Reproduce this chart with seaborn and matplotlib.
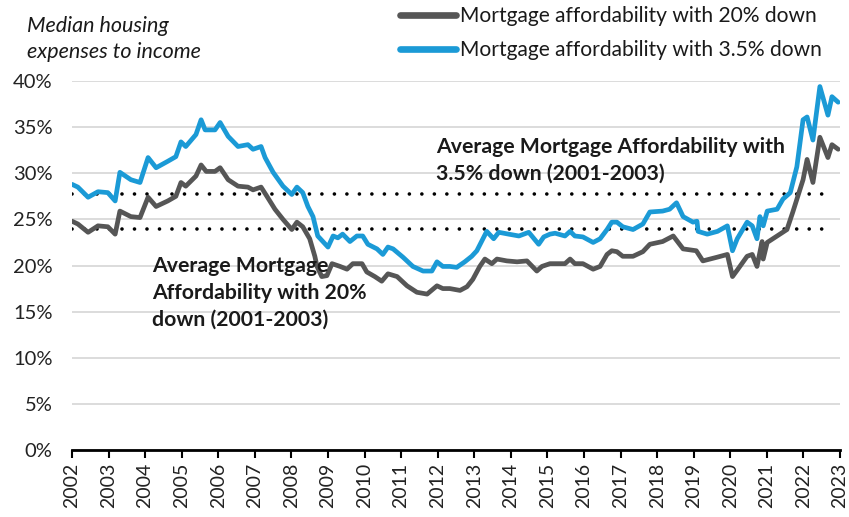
import matplotlib
matplotlib.use("Agg")
import matplotlib.pyplot as plt
import matplotlib.ticker as mticker
import pandas as pd
import seaborn as sns

# Mortgage affordability with 3.5% down (decimal year, % of income)
low_down_years = [
    2002.00, 2002.16, 2002.44, 2002.71, 2002.98, 2003.18, 2003.31, 2003.61, 2003.86,
    2004.08, 2004.30, 2004.62, 2004.84, 2004.98, 2005.11, 2005.39, 2005.53, 2005.64,
    2005.91, 2006.05, 2006.27, 2006.54, 2006.81, 2006.95, 2007.17, 2007.28, 2007.50,
    2007.77, 2008.01, 2008.15, 2008.31, 2008.45, 2008.59, 2008.72, 2008.86, 2009.00,
    2009.14, 2009.27, 2009.40, 2009.60, 2009.79, 2009.95, 2010.09, 2010.34, 2010.50,
    2010.64, 2010.78, 2011.05, 2011.32, 2011.60, 2011.84, 2011.98, 2012.14, 2012.33,
    2012.52, 2012.74, 2012.93, 2013.07, 2013.34, 2013.53, 2013.67, 2013.94, 2014.22,
    2014.49, 2014.76, 2014.90, 2015.07, 2015.21, 2015.48, 2015.62, 2015.75, 2015.97,
    2016.25, 2016.44, 2016.63, 2016.76, 2016.90, 2017.06, 2017.34, 2017.61, 2017.80,
    2018.15, 2018.34, 2018.53, 2018.71, 2018.98, 2019.09, 2019.12, 2019.37, 2019.65,
    2019.92, 2020.06, 2020.19, 2020.46, 2020.60, 2020.73, 2020.81, 2020.90, 2021.01,
    2021.28, 2021.44, 2021.64, 2021.82, 2021.99, 2022.10, 2022.26, 2022.45, 2022.67,
    2022.78, 2022.95,
]
low_down_pct = [
    28.8, 28.5, 27.4, 28.0, 27.9, 27.0, 30.1, 29.3, 29.0,
    31.7, 30.6, 31.3, 31.8, 33.4, 32.9, 34.2, 35.8, 34.7,
    34.7, 35.5, 34.0, 32.9, 33.1, 32.6, 32.9, 31.7, 30.1,
    28.6, 27.7, 28.5, 27.9, 26.4, 25.3, 23.2, 22.6, 22.0,
    23.2, 23.0, 23.4, 22.6, 23.2, 23.2, 22.3, 21.8, 21.2,
    22.0, 21.8, 20.9, 19.9, 19.4, 19.4, 20.4, 19.9, 19.9,
    19.8, 20.4, 21.0, 21.6, 23.7, 22.9, 23.6, 23.4, 23.2,
    23.6, 22.3, 23.1, 23.4, 23.5, 23.2, 23.7, 23.2, 23.1,
    22.5, 22.9, 23.9, 24.7, 24.7, 24.2, 23.9, 24.5, 25.8,
    25.9, 26.1, 26.8, 25.3, 24.7, 24.8, 23.7, 23.4, 23.7,
    24.3, 21.6, 22.9, 24.7, 24.3, 22.9, 25.3, 24.3, 25.9,
    26.1, 27.2, 27.9, 30.7, 35.8, 36.1, 33.6, 39.4, 36.3,
    38.3, 37.7,
]

# Mortgage affordability with 20% down (decimal year, % of income)
full_down_years = [
    2002.00, 2002.16, 2002.44, 2002.71, 2002.98, 2003.18, 2003.31, 2003.61, 2003.86,
    2004.08, 2004.30, 2004.62, 2004.84, 2004.98, 2005.11, 2005.39, 2005.53, 2005.67,
    2005.91, 2006.05, 2006.27, 2006.54, 2006.81, 2006.95, 2007.17, 2007.33, 2007.55,
    2007.77, 2008.01, 2008.15, 2008.31, 2008.50, 2008.64, 2008.70, 2008.83, 2008.97,
    2009.11, 2009.33, 2009.52, 2009.68, 2009.93, 2010.06, 2010.28, 2010.47, 2010.64,
    2010.89, 2011.16, 2011.43, 2011.71, 2011.98, 2012.14, 2012.33, 2012.61, 2012.80,
    2012.96, 2013.15, 2013.29, 2013.48, 2013.62, 2013.89, 2014.17, 2014.44, 2014.71,
    2014.85, 2015.07, 2015.21, 2015.48, 2015.62, 2015.75, 2015.97, 2016.25, 2016.44,
    2016.63, 2016.76, 2016.90, 2017.06, 2017.34, 2017.61, 2017.80, 2018.15, 2018.44,
    2018.71, 2019.07, 2019.25, 2019.64, 2019.92, 2020.06, 2020.19, 2020.46, 2020.60,
    2020.73, 2020.87, 2020.90, 2021.01, 2021.28, 2021.55, 2021.71, 2021.99, 2022.10,
    2022.26, 2022.45, 2022.67, 2022.78, 2022.95,
]
full_down_pct = [
    24.8, 24.5, 23.6, 24.3, 24.2, 23.4, 25.9, 25.3, 25.2,
    27.4, 26.4, 27.0, 27.5, 29.0, 28.6, 29.7, 30.9, 30.2,
    30.2, 30.6, 29.3, 28.6, 28.5, 28.2, 28.5, 27.5, 26.1,
    25.0, 23.9, 24.7, 24.2, 22.9, 21.0, 19.9, 18.8, 18.9,
    20.2, 19.9, 19.6, 20.2, 20.2, 19.3, 18.8, 18.3, 19.1,
    18.8, 17.8, 17.1, 16.9, 17.8, 17.5, 17.5, 17.3, 17.7,
    18.5, 19.9, 20.7, 20.2, 20.7, 20.5, 20.4, 20.5, 19.4,
    19.9, 20.2, 20.2, 20.2, 20.7, 20.2, 20.2, 19.6, 19.9,
    21.2, 21.6, 21.5, 21.0, 21.0, 21.5, 22.3, 22.6, 23.2,
    21.8, 21.6, 20.5, 20.9, 21.2, 18.8, 19.5, 21.0, 21.2,
    19.9, 22.6, 20.7, 22.5, 23.2, 23.9, 25.8, 29.3, 31.5,
    29.0, 33.9, 31.7, 33.1, 32.6,
]

# 2001-2003 averages shown as reference lines
avg_low_down = 27.8
avg_full_down = 24.0

series_labels = [
    "Mortgage affordability with 20% down",
    "Mortgage affordability with 3.5% down",
]
year_ticks = list(range(2002, 2024))
pct_ticks = [0, 5, 10, 15, 20, 25, 30, 35, 40]

GRAY = "#565656"
BLUE = "#1b9ad6"

sns.set_theme(style="white")
plt.rcParams["font.family"] = ["Lato", "DejaVu Sans"]

fig = plt.figure(figsize=(8.49, 5.17), dpi=100)
ax = fig.add_axes([0.0848, 0.1296, 0.9046, 0.7137])

df_full = pd.DataFrame({"year": full_down_years, "pct": full_down_pct})
df_low = pd.DataFrame({"year": low_down_years, "pct": low_down_pct})

sns.lineplot(data=df_full, x="year", y="pct", ax=ax, color=GRAY, lw=3.4,
             label=series_labels[0], zorder=3, solid_joinstyle="round")
sns.lineplot(data=df_low, x="year", y="pct", ax=ax, color=BLUE, lw=3.4,
             label=series_labels[1], zorder=3, solid_joinstyle="round")

# dotted average lines
for level in (avg_low_down, avg_full_down):
    ax.plot([2002, 2022.8], [level, level], color="black", lw=2.6,
            linestyle=(0, (0.01, 3.45)), dash_capstyle="round",
            solid_capstyle="round", zorder=2)

ax.set_xlim(2002, 2023)
ax.set_ylim(0, 40)
ax.set_xticks(year_ticks)
ax.set_xticklabels([str(y) for y in year_ticks], rotation=90, fontsize=14)
ax.set_yticks(pct_ticks)
ax.yaxis.set_major_formatter(mticker.FuncFormatter(lambda v, p: f"{v:.0f}%"))
ax.tick_params(axis="y", labelsize=14.5, length=0, pad=14, colors="#222222")
ax.tick_params(axis="x", length=6, width=1.5, color="black", pad=3,
               direction="out", bottom=True, labelcolor="#222222")
ax.set_xlabel("")
ax.set_ylabel("")

ax.grid(axis="y", color="#d9d9d9", lw=1.3)
ax.set_axisbelow(True)
for side in ("top", "right", "left"):
    ax.spines[side].set_visible(False)
ax.spines["bottom"].set_color("black")
ax.spines["bottom"].set_linewidth(2)
ax.spines["bottom"].set_zorder(4)

ax.text(2011.95, 31.45, "Average Mortgage Affordability with\n3.5% down (2001-2003)",
        fontsize=15.3, fontweight="bold", color="#1a1a1a", va="center", ha="left",
        linespacing=1.42, zorder=5)
ax.text(2004.19, 17.0, "Average Mortgage\nAffordability with 20%\ndown (2001-2003)",
        fontsize=15.3, fontweight="bold", color="#1a1a1a", va="center", ha="left",
        linespacing=1.42, zorder=5)

fig.text(27 / 849, 1 - 16 / 517, "Median housing\nexpenses to income",
         fontsize=15.5, style="italic", color="#1a1a1a", va="top", ha="left",
         linespacing=1.38)

handles, labels = ax.get_legend_handles_labels()
ax.get_legend().remove()
leg = fig.legend(handles, labels, loc="upper left",
                 bbox_to_anchor=(400 / 849, 1 - 6 / 517), frameon=False,
                 fontsize=15.1, handlelength=2.65, handletextpad=0.2,
                 labelspacing=0.69, borderpad=0, borderaxespad=0)
for line in leg.get_lines():
    line.set_linewidth(4.8)
    line.set_solid_capstyle("round")
for t in leg.get_texts():
    t.set_color("#1a1a1a")

fig.savefig("out.png", dpi=100)
